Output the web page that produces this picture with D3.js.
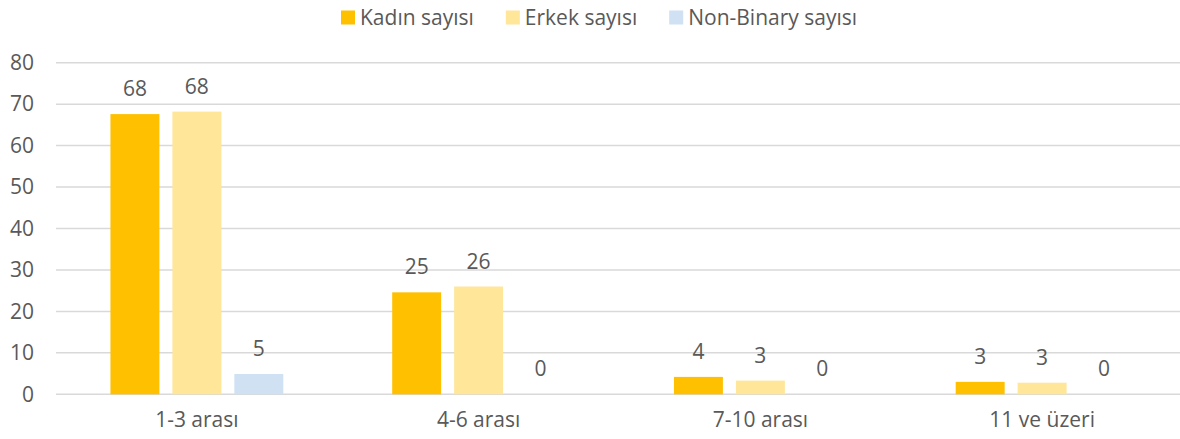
<!DOCTYPE html>
<html><head><meta charset="utf-8">
<script src="https://cdn.jsdelivr.net/npm/d3@7"></script>
<style>body{margin:0;background:#fff;}svg{display:block;font-family:"Open Sans",sans-serif;}</style>
</head><body><svg id="c" width="1180" height="439"></svg>
<script>
const categories = ["1-3 arası", "4-6 arası", "7-10 arası", "11 ve üzeri"];
const seriesNames = ["Kadın sayısı", "Erkek sayısı", "Non-Binary sayısı"];
const kadin = [67.6, 24.6, 4.2, 3.0];
const erkek = [68.2, 26.0, 3.3, 2.8];
const nonBinary = [4.9, 0, 0, 0];
const yTicks = [0, 10, 20, 30, 40, 50, 60, 70, 80];
const colors = ["#FFC000", "#FFE699", "#CFE1F2"];

const seriesValues = [kadin, erkek, nonBinary];
const svg = d3.select("#c");
const plotLeft = 56, plotRight = 1183, plotTop = 62.7, plotBottom = 394.3;
const textColor = "#595959";
const fs = "21px";

const y = d3.scaleLinear().domain([0, 80]).range([plotBottom, plotTop]);
const x0 = d3.scaleBand().domain(categories).range([plotLeft, plotRight]).paddingInner(0.3865).paddingOuter(0.19325);
const x1 = d3.scaleBand().domain(seriesNames).range([0, x0.bandwidth()]).paddingInner(13/62).paddingOuter(0);

// gridlines
svg.append("g").selectAll("line").data(yTicks).join("line")
  .attr("x1", plotLeft).attr("x2", plotRight)
  .attr("y1", d => y(d)).attr("y2", d => y(d))
  .attr("stroke", "#d9d9d9").attr("stroke-width", 1.5);

// y axis labels
const yAxis = d3.axisLeft(y).tickValues(yTicks).tickSize(0).tickPadding(0);
const yg = svg.append("g").attr("transform", `translate(34,0)`).call(yAxis);
yg.select(".domain").remove();
yg.selectAll("text").attr("fill", textColor).style("font-size", fs).style("font-family", "'Open Sans',sans-serif");

// x axis labels
const xAxis = d3.axisBottom(x0).tickSize(0).tickPadding(0);
const xg = svg.append("g").attr("transform", `translate(0,${plotBottom + 18})`).call(xAxis);
xg.select(".domain").remove();
xg.selectAll("text").attr("fill", textColor).style("font-size", fs).style("font-family", "'Open Sans',sans-serif");

// bars
const rows = [];
categories.forEach((c, i) => seriesNames.forEach((s, j) => rows.push({c, s, j, v: seriesValues[j][i]})));
svg.append("g").selectAll("rect").data(rows).join("rect")
  .attr("x", d => x0(d.c) + x1(d.s))
  .attr("width", x1.bandwidth())
  .attr("y", d => y(d.v))
  .attr("height", d => y(0) - y(d.v))
  .attr("fill", d => colors[d.j]);

// data labels
svg.append("g").selectAll("text").data(rows).join("text")
  .attr("x", d => x0(d.c) + x1(d.s) + x1.bandwidth() / 2)
  .attr("y", d => y(d.v) - 18)
  .attr("text-anchor", "middle")
  .attr("fill", textColor).style("font-size", fs)
  .text(d => d3.format(".0f")(d.v));

// legend
const lg = svg.append("g");
let lx = 341;
seriesNames.forEach((s, j) => {
  lg.append("rect").attr("x", lx).attr("y", 10.5).attr("width", 14).attr("height", 14).attr("fill", colors[j]);
  const t = lg.append("text").attr("x", lx + 19).attr("y", 25).attr("fill", textColor).style("font-size", fs).text(s);
  lx = lx + 19 + t.node().getComputedTextLength() + 32;
});
</script></body></html>
